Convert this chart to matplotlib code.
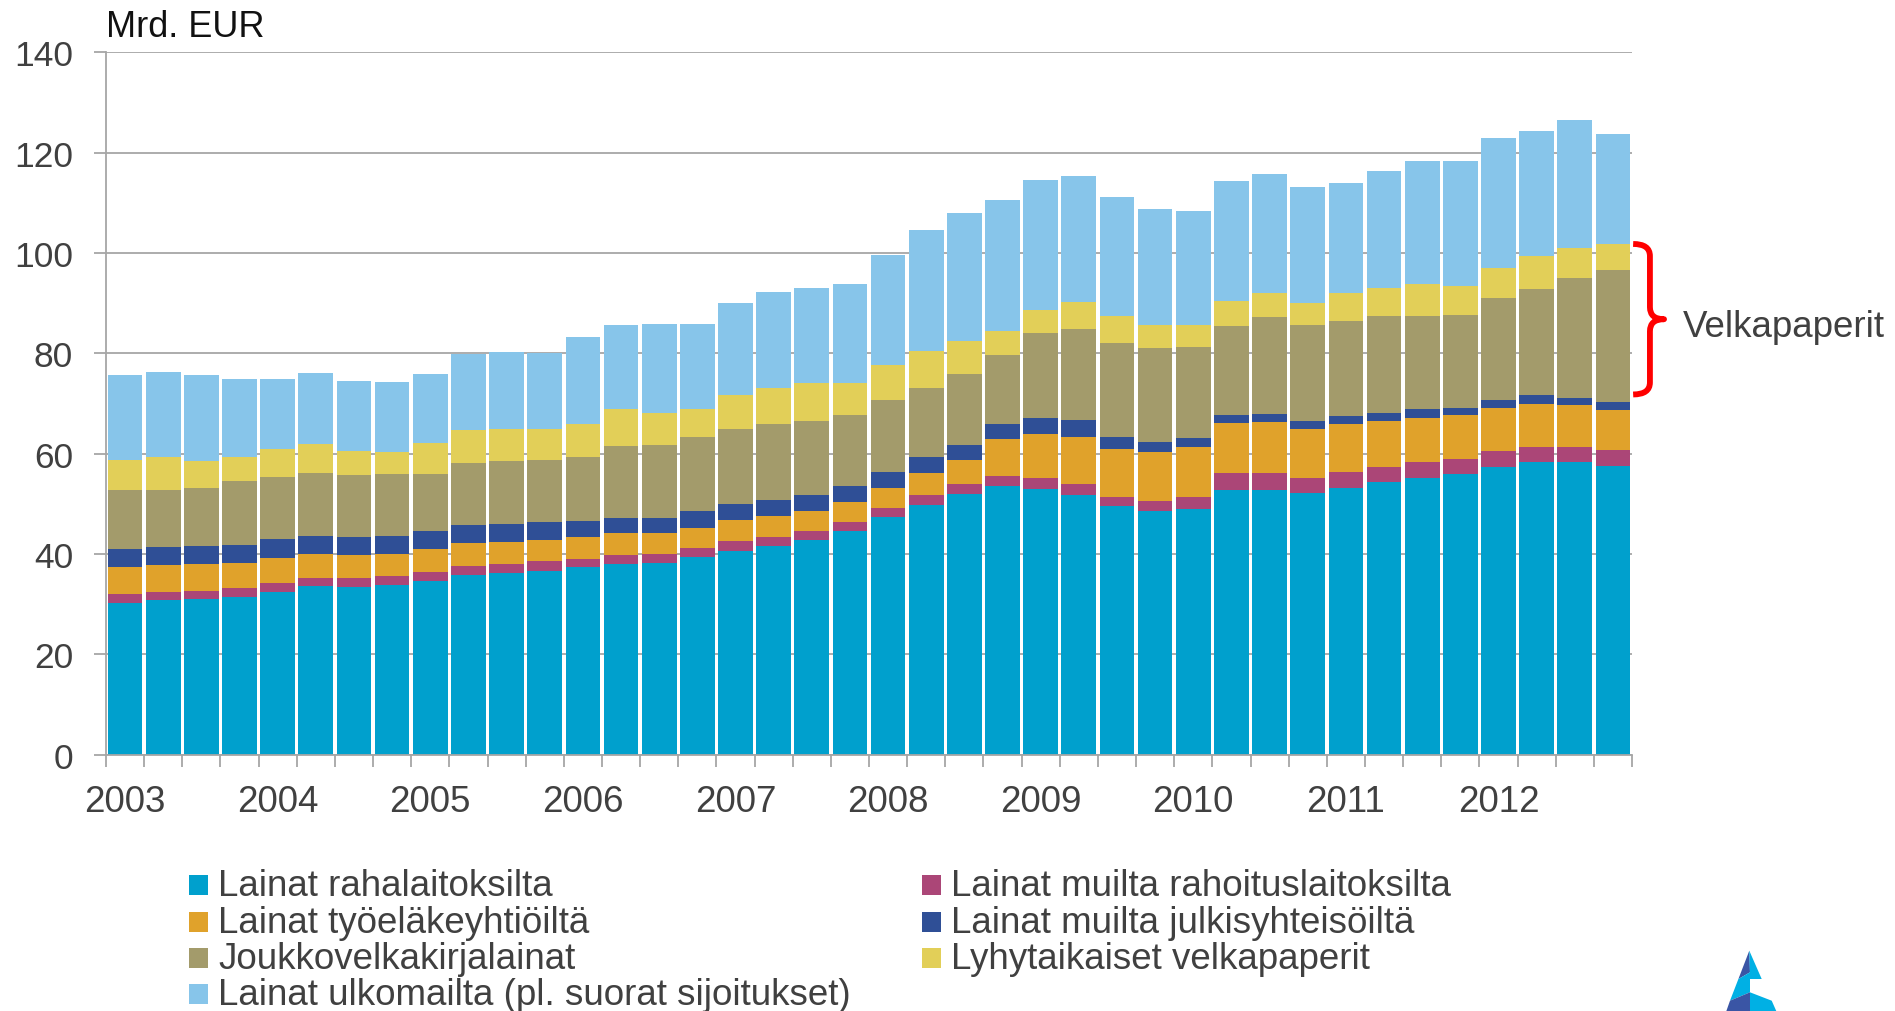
import numpy as np
import matplotlib
matplotlib.use("Agg")
import matplotlib.pyplot as plt
from matplotlib.patches import Rectangle, Polygon, PathPatch
from matplotlib.path import Path

plt.rcParams['font.family'] = ['Liberation Sans', 'DejaVu Sans']

# ---------------- data (Mrd. EUR, quarterly 2003Q1 .. 2012Q4) ----------------
years = ['2003', '2004', '2005', '2006', '2007', '2008', '2009', '2010', '2011', '2012']

rahalaitokset = [30.3, 30.9, 31.1, 31.4, 32.4, 33.6, 33.4, 33.8, 34.7, 35.8,
                 36.3, 36.7, 37.4, 38.1, 38.3, 39.4, 40.7, 41.6, 42.7, 44.5,
                 47.4, 49.7, 51.9, 53.5, 52.9, 51.7, 49.5, 48.5, 49.0, 52.7,
                 52.7, 52.1, 53.2, 54.4, 55.1, 55.9, 57.4, 58.4, 58.3, 57.6]
muut_rahoitus = [1.7, 1.5, 1.5, 1.8, 1.8, 1.6, 1.8, 1.8, 1.8, 1.8,
                 1.7, 2.0, 1.7, 1.8, 1.8, 1.8, 1.8, 1.8, 1.8, 1.8,
                 1.8, 2.0, 2.1, 2.1, 2.2, 2.3, 1.9, 2.1, 2.4, 3.5,
                 3.5, 3.1, 3.1, 3.0, 3.2, 3.1, 3.1, 3.0, 3.1, 3.2]
tyoelake = [5.4, 5.4, 5.4, 5.1, 5.0, 4.8, 4.6, 4.4, 4.5, 4.5,
            4.4, 4.0, 4.3, 4.2, 4.0, 4.0, 4.2, 4.2, 4.0, 4.0,
            4.0, 4.4, 4.8, 7.3, 8.8, 9.4, 9.6, 9.8, 9.9, 10.0,
            10.1, 9.8, 9.6, 9.2, 8.9, 8.7, 8.6, 8.6, 8.3, 8.0]
julkisyht = [3.6, 3.6, 3.6, 3.5, 3.8, 3.6, 3.6, 3.6, 3.5, 3.6,
             3.5, 3.6, 3.2, 3.1, 3.1, 3.4, 3.2, 3.2, 3.2, 3.2,
             3.2, 3.2, 3.0, 3.1, 3.3, 3.3, 2.4, 2.0, 1.8, 1.6,
             1.7, 1.6, 1.6, 1.6, 1.7, 1.4, 1.6, 1.6, 1.4, 1.4]
joukkovelka = [11.8, 11.4, 11.5, 12.8, 12.3, 12.6, 12.4, 12.4, 11.5, 12.5,
               12.7, 12.5, 12.7, 14.3, 14.5, 14.7, 15.1, 15.2, 14.9, 14.3,
               14.3, 13.8, 14.0, 13.7, 16.9, 18.2, 18.7, 18.6, 18.1, 17.6,
               19.2, 19.1, 19.0, 19.3, 18.6, 18.5, 20.3, 21.2, 24.0, 26.4]
lyhytaik = [6.0, 6.5, 5.5, 4.7, 5.6, 5.8, 4.8, 4.4, 6.2, 6.5,
            6.3, 6.1, 6.7, 7.4, 6.5, 5.6, 6.6, 7.1, 7.4, 6.2,
            6.9, 7.4, 6.7, 4.8, 4.5, 5.3, 5.4, 4.7, 4.5, 5.0,
            4.9, 4.4, 5.5, 5.6, 6.4, 5.9, 6.0, 6.5, 5.9, 5.2]
ulkomaat = [16.8, 17.0, 17.0, 15.6, 14.0, 14.1, 13.9, 13.9, 13.7, 15.2,
            15.3, 15.1, 17.2, 16.7, 17.6, 16.9, 18.5, 19.1, 19.0, 19.9,
            21.9, 24.0, 25.4, 26.0, 26.0, 25.2, 23.7, 23.0, 22.6, 23.9,
            23.6, 23.0, 22.0, 23.2, 24.4, 24.8, 26.0, 25.1, 25.5, 21.9]

series_names = ['Lainat rahalaitoksilta', 'Lainat muilta rahoituslaitoksilta',
                'Lainat työeläkeyhtiöiltä', 'Lainat muilta julkisyhteisöiltä',
                'Joukkovelkakirjalainat', 'Lyhytaikaiset velkapaperit',
                'Lainat ulkomailta (pl. suorat sijoitukset)']
series_values = [rahalaitokset, muut_rahoitus, tyoelake, julkisyht,
                 joukkovelka, lyhytaik, ulkomaat]
series_colors = ['#00a0cd', '#ab4677', '#e0a22b', '#2f4f96',
                 '#a39b6b', '#e2cf58', '#87c5ea']

bracket_label = 'Velkapaperit'
bracket_range = (71.8, 101.8)   # value range covered by the bracket

# ---------------- figure ----------------
W, H = 1895, 1012
fig = plt.figure(figsize=(W / 100, H / 100), dpi=100)
L, R, T, B = 106, 1632, 53.3, 755.7
ax = fig.add_axes([L / W, 1 - B / H, (R - L) / W, (B - T) / H])

txt_col = '#404040'
grid_col = '#a6a6a6'
n = len(rahalaitokset)
x = np.arange(n)
bottom = np.zeros(n)
for vals, col, name in zip(series_values, series_colors, series_names):
    v = np.array(vals)
    ax.bar(x, v, bottom=bottom, width=0.91, color=col, label=name,
           linewidth=0, zorder=3)
    bottom += v

ax.set_xlim(-0.5, n - 0.5)
ax.set_ylim(0, 140)
ax.set_yticks(np.arange(0, 141, 20))
ax.set_axisbelow(True)
ax.yaxis.grid(True, color=grid_col, linewidth=1.3, zorder=0)
for s in ['top', 'right']:
    ax.spines[s].set_visible(False)
for s in ['left', 'bottom']:
    ax.spines[s].set_color(grid_col)
    ax.spines[s].set_linewidth(1.3)
    ax.spines[s].set_zorder(4)

ax.tick_params(axis='y', direction='out', length=8.6, width=1.3, color=grid_col,
               labelsize=25.5, labelcolor=txt_col, pad=15)
ax.set_xticks(np.arange(-0.5, n, 1))
ax.set_xticklabels([])
ax.tick_params(axis='x', which='major', direction='out', length=8.6, width=1.3,
               color=grid_col)
ax.set_xticks(np.arange(0, n, 4), minor=True)
ax.set_xticklabels(years, minor=True)
ax.tick_params(axis='x', which='minor', length=0, labelsize=26.5,
               labelcolor=txt_col, pad=21)

# unit label
fig.text(L / W, 1 - 36.7 / H, 'Mrd. EUR', fontsize=26, color='#111111',
         ha='left', va='baseline')

# bracket
ylo, yhi = bracket_range
ymid = (ylo + yhi) / 2
x0, x1, x2 = n - 0.47, n - 0.03, n + 0.34
r = 2.4
verts = [(x0, yhi), (x1, yhi), (x1, yhi - r), (x1, ymid + r), (x1, ymid), (x2, ymid),
         (x1, ymid), (x1, ymid - r), (x1, ylo + r), (x1, ylo), (x0, ylo)]
codes = [Path.MOVETO, Path.CURVE3, Path.CURVE3, Path.LINETO, Path.CURVE3, Path.CURVE3,
         Path.CURVE3, Path.CURVE3, Path.LINETO, Path.CURVE3, Path.CURVE3]
ax.add_patch(PathPatch(Path(verts, codes), fill=False, edgecolor='#ff0000',
                       linewidth=4.2, capstyle='butt', joinstyle='round',
                       clip_on=False, zorder=5))
fig.text(1683 / W, 1 - 336.7 / H, bracket_label, fontsize=26.5, color=txt_col,
         ha='left', va='baseline')

# legend (manual, two columns)
col_x = [189, 922]
row_y = [886, 923, 959, 995]
order = [(0, 0), (1, 0), (2, 0), (3, 0), (0, 1), (1, 1), (2, 1)]
leg_idx = [0, 2, 4, 6, 1, 3, 5]
for (row, col), idx in zip(order, leg_idx):
    px, py = col_x[col], row_y[row]
    fig.patches.append(Rectangle(((px) / W, 1 - (py + 10) / H), 19 / W, 20 / H,
                                 transform=fig.transFigure, facecolor=series_colors[idx],
                                 edgecolor='none'))
    fig.text((px + 29) / W, 1 - (py + 1) / H, series_names[idx], fontsize=26.5,
             color=txt_col, ha='left', va='center')

# logo
def fp(pts):
    return [(a / W, 1 - b / H) for a, b in pts]

dark, light = '#3a55a5', '#00b0e4'
logo = [
    (dark, [(1749.3, 951.7), (1750, 973.3), (1738.4, 980)]),
    (light, [(1749.3, 951.7), (1761.7, 980), (1750, 980)]),
    (light, [(1738.4, 980), (1750, 973.3), (1750, 993.3), (1730, 1001.7)]),
    (dark, [(1730, 1001.7), (1750, 993.3), (1750, 1013), (1726, 1013)]),
    (light, [(1750, 993.3), (1771.7, 1001.7), (1776.7, 1013), (1750, 1013)]),
]
for c, pts in logo:
    fig.patches.append(Polygon(fp(pts), closed=True, transform=fig.transFigure,
                               facecolor=c, edgecolor='none'))

fig.savefig('out.png', dpi=100, facecolor='white')
